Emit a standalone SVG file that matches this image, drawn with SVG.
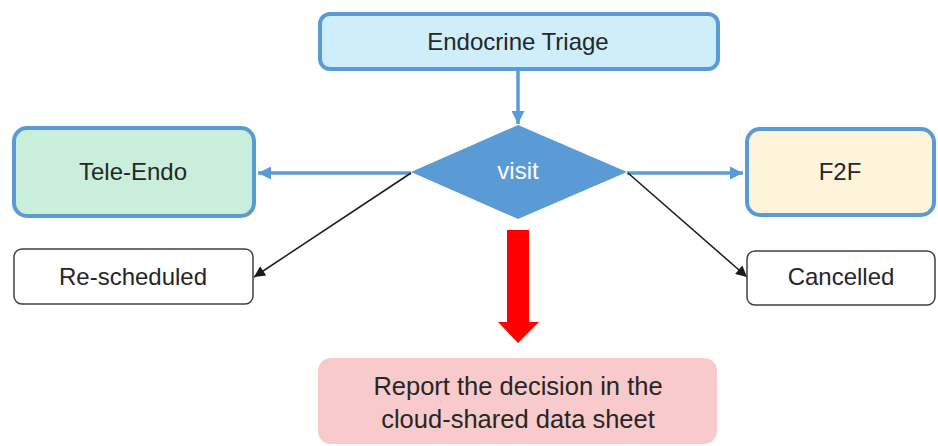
<svg xmlns="http://www.w3.org/2000/svg" width="938" height="446" viewBox="0 0 938 446">
<style>
text{font-family:"Liberation Sans",Arial,sans-serif;font-size:24px;fill:#262626;text-anchor:middle}
.big{font-size:25.5px}
.bluebox{stroke:#5B9BD5;stroke-width:4}
.plain{fill:#fff;stroke:#404040;stroke-width:1.5}
.blue{stroke:#5B9BD5;stroke-width:3.5;fill:none}
.black{stroke:#1a1a1a;stroke-width:1.5;fill:none}
</style>
<defs>
<marker id="ab" viewBox="0 0 10 10" refX="10" refY="5" markerUnits="userSpaceOnUse" markerWidth="13" markerHeight="13" orient="auto">
<path d="M0,0 L10,5 L0,10 z" fill="#5B9BD5"/>
</marker>
<marker id="ak" viewBox="0 0 10 10" refX="10" refY="5" markerUnits="userSpaceOnUse" markerWidth="13" markerHeight="11" orient="auto">
<path d="M0,0 L10,5 L0,10 z" fill="#1a1a1a"/>
</marker>
</defs>
<rect width="938" height="446" fill="#fff"/>
<g id="connectors">
<line class="blue" x1="518" y1="71" x2="518" y2="124" marker-end="url(#ab)"/>
<line class="blue" x1="411" y1="173" x2="258" y2="173" marker-end="url(#ab)"/>
<line class="blue" x1="627" y1="173" x2="743" y2="173" marker-end="url(#ab)"/>
<line class="black" x1="411" y1="173" x2="254" y2="277" marker-end="url(#ak)"/>
<line class="black" x1="628" y1="173" x2="747" y2="277" marker-end="url(#ak)"/>
<path d="M507,230 H529 V322 H539 L518,343 L498,322 H507 Z" fill="#FF0000"/>
</g>
<g id="triage">
<rect class="bluebox" x="320" y="14" width="398" height="55" rx="10" fill="#CDEEFA"/>
<text x="518" y="50">Endocrine Triage</text>
</g>
<g id="visit">
<polygon points="518,125 627,172 518,219 411,172" fill="#5B9BD5"/>
<text x="518" y="179" style="fill:#fff">visit</text>
</g>
<g id="tele">
<rect class="bluebox" x="14" y="128" width="240" height="88" rx="13" fill="#C9EEDB"/>
<text x="133" y="180">Tele-Endo</text>
</g>
<g id="f2f">
<rect class="bluebox" x="747" y="129" width="187" height="86" rx="13" fill="#FEF4DC"/>
<text x="840" y="180">F2F</text>
</g>
<g id="rescheduled">
<rect class="plain" x="14" y="249" width="239" height="55" rx="8"/>
<text x="133" y="285">Re-scheduled</text>
</g>
<g id="cancelled">
<rect class="plain" x="747" y="251" width="188" height="54" rx="8"/>
<text x="841" y="285">Cancelled</text>
</g>
<g id="report">
<rect x="318" y="358" width="399" height="86" rx="13" fill="#F8CACB"/>
<text class="big" x="518" y="395">Report the decision in the</text>
<text class="big" x="518" y="428">cloud-shared data sheet</text>
</g>
</svg>
